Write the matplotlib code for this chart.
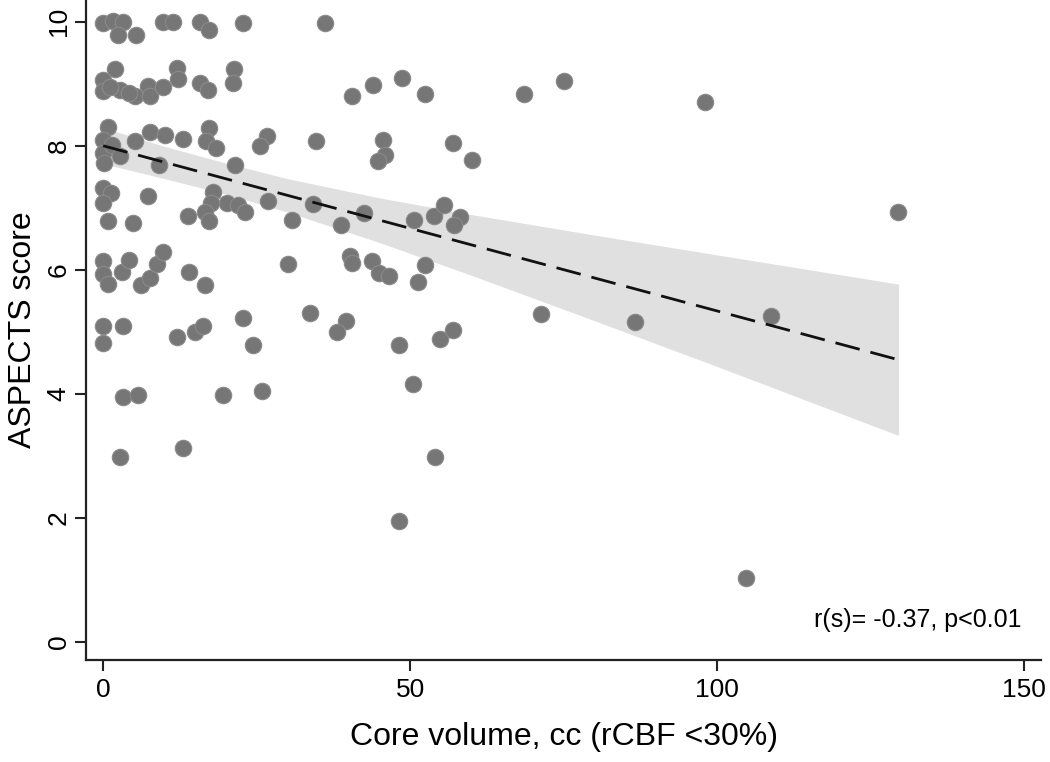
import numpy as np
import matplotlib
matplotlib.use("Agg")
import matplotlib.pyplot as plt

# Core volume (cc) and ASPECTS score (jittered as displayed)
core_volume = [
    # ~10
    0.0, 1.6, 3.3, 2.4, 5.4, 9.8, 11.3, 15.7, 17.3, 22.8, 36.1,
    # ~9
    2.0, 0.0, 0.0, 2.8, 5.2, 7.3, 7.7, 9.8, 12.0, 12.1, 15.7, 17.0, 21.3, 21.2,
    40.5, 44.0, 48.6, 52.4, 68.5, 75.0, 98.0, 1.1, 4.2,
    # ~8
    0.8, 0.0, 0.0, 0.2, 1.5, 2.7, 5.2, 7.6, 10.0, 13.0, 17.3, 16.8, 18.4, 9.1,
    21.4, 26.6, 25.5, 34.7, 45.6, 45.9, 44.8, 57.0, 60.0,
    # ~7
    0.0, 1.3, 0.0, 0.8, 4.8, 7.3, 13.8, 17.9, 17.6, 16.5, 17.3, 20.1, 22.0, 23.1,
    26.9, 30.7, 34.2, 38.8, 42.5, 50.6, 53.8, 55.5, 58.1, 57.2, 129.4,
    # ~6
    0.0, 0.0, 0.8, 3.0, 4.2, 6.1, 7.7, 8.7, 9.8, 14.0, 16.6, 30.1, 40.2, 40.5,
    43.7, 44.9, 46.5, 52.4, 51.3,
    # ~5
    0.0, 0.0, 3.3, 12.0, 14.9, 16.3, 22.7, 24.4, 33.7, 39.5, 38.0, 48.2, 54.8,
    57.0, 71.3, 86.6, 108.8,
    # ~4
    3.2, 5.7, 19.5, 25.9, 50.5,
    # ~3
    2.8, 13.0, 54.0,
    # ~2, ~1
    48.1, 104.7,
]
aspects = [
    9.98, 10.01, 10.0, 9.79, 9.79, 10.0, 10.0, 10.0, 9.87, 9.98, 9.98,
    9.23, 9.06, 8.89, 8.90, 8.80, 8.96, 8.81, 8.94, 9.25, 9.08, 9.02, 8.90, 9.23, 9.01,
    8.80, 8.98, 9.09, 8.83, 8.83, 9.04, 8.71, 8.94, 8.85,
    8.31, 8.10, 7.89, 7.73, 8.02, 7.83, 8.07, 8.23, 8.18, 8.11, 8.29, 8.07, 7.96, 7.69,
    7.69, 8.15, 7.99, 8.07, 8.10, 7.85, 7.75, 8.04, 7.77,
    7.32, 7.24, 7.08, 6.78, 6.75, 7.19, 6.86, 7.26, 7.08, 6.94, 6.78, 7.08, 7.05, 6.94,
    7.11, 6.80, 7.06, 6.72, 6.91, 6.80, 6.86, 7.05, 6.85, 6.73, 6.94,
    6.14, 5.94, 5.77, 5.96, 6.16, 5.76, 5.87, 6.10, 6.28, 5.97, 5.76, 6.10, 6.22, 6.11,
    6.15, 5.95, 5.90, 6.08, 5.81,
    5.09, 4.82, 5.09, 4.92, 5.00, 5.09, 5.23, 4.79, 5.31, 5.18, 5.00, 4.79, 4.89,
    5.03, 5.29, 5.16, 5.26,
    3.95, 3.98, 3.98, 4.04, 4.16,
    2.98, 3.12, 2.98,
    1.95, 1.03,
]

# Fitted line and 95% CI band
fit_x = [0, 10, 20, 30, 45, 60, 80, 100, 129.5]
fit_y = [8.00, 7.73, 7.47, 7.20, 6.80, 6.40, 5.87, 5.34, 4.55]
ci_upper = [8.29, 7.99, 7.72, 7.47, 7.16, 6.89, 6.56, 6.24, 5.77]
ci_lower = [7.71, 7.47, 7.22, 6.93, 6.44, 5.91, 5.18, 4.44, 3.33]

x_ticks = [0, 50, 100, 150]
y_ticks = [0, 2, 4, 6, 8, 10]
annotation = "r(s)= -0.37, p<0.01"

plt.rcParams['font.family'] = ['Liberation Sans', 'DejaVu Sans']

fig = plt.figure(figsize=(10.5, 7.62), dpi=100)
ax = fig.add_axes([86 / 1050, 1 - 660 / 762, (1041 - 86) / 1050, 660 / 762])

ax.fill_between(fit_x, ci_lower, ci_upper, color='#e0e0e0', linewidth=0, zorder=1)
ax.scatter(core_volume, aspects, s=140, color='#767676', edgecolors='#8a8a8a',
           linewidths=0.8, zorder=2)
ax.plot([fit_x[0], fit_x[-1]], [fit_y[0], fit_y[-1]], color='#111111',
        linewidth=2.0, dashes=(9, 4), zorder=3)

ax.set_xlim(-2.8, 152.7)
ax.set_ylim(-0.29, 10.35)
ax.set_xticks(x_ticks)
ax.set_yticks(y_ticks)
ax.set_xticklabels([str(t) for t in x_ticks], fontsize=19)
ax.set_yticklabels([str(t) for t in y_ticks], fontsize=19, rotation=90, va='center')

ax.spines['top'].set_visible(False)
ax.spines['right'].set_visible(False)
for sp in ('left', 'bottom'):
    ax.spines[sp].set_linewidth(1.6)
    ax.spines[sp].set_color('#222222')
ax.tick_params(axis='both', length=8, width=1.5, color='#222222')
ax.tick_params(axis='x', pad=5)
ax.tick_params(axis='y', pad=3)

ax.set_xlabel("Core volume, cc (rCBF <30%)", fontsize=23, labelpad=14)
ax.set_ylabel("ASPECTS score", fontsize=23, labelpad=6)

ax.text(149.5, 0.35, annotation, fontsize=18, ha='right', va='center')

fig.savefig("out.png", dpi=100)
